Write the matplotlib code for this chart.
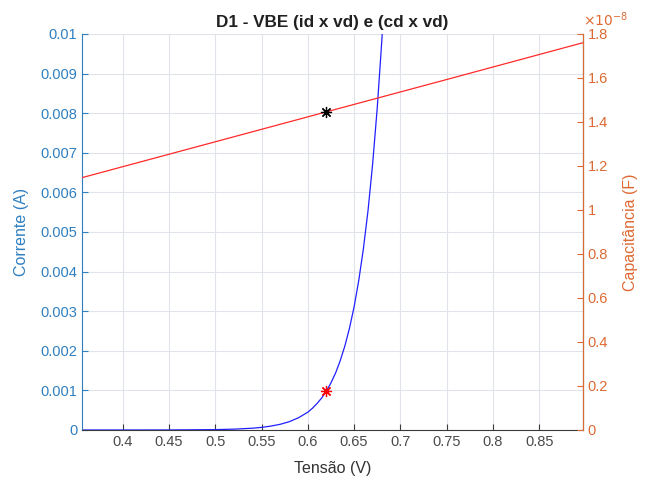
import matplotlib
matplotlib.use('Agg')
import matplotlib.pyplot as plt
from matplotlib.ticker import FuncFormatter

plt.rcParams['font.family'] = ['Liberation Sans', 'DejaVu Sans']

# diode current
vd = [0.356, 0.40, 0.45, 0.50, 0.52, 0.54, 0.55, 0.56, 0.57, 0.58, 0.59,
      0.60, 0.605, 0.61, 0.615, 0.62, 0.625, 0.63, 0.635, 0.64, 0.645, 0.65,
      0.655, 0.66, 0.665, 0.67, 0.675, 0.68, 0.685]
id_ = [0.0, 2e-7, 1.4e-6, 9.7e-6, 2.1e-5, 4.5e-5, 6.6e-5, 9.8e-5, 1.43e-4,
       2.1e-4, 3.1e-4, 4.5e-4, 5.5e-4, 6.7e-4, 8.1e-4, 9.8e-4, 1.19e-3,
       1.44e-3, 1.75e-3, 2.12e-3, 2.57e-3, 3.11e-3, 3.77e-3, 4.57e-3,
       5.53e-3, 6.71e-3, 8.13e-3, 9.85e-3, 1.19e-2]

# diffusion capacitance
vd_c = [0.356, 0.50, 0.62, 0.75, 0.897]
cd = [1.147e-8, 1.310e-8, 1.446e-8, 1.593e-8, 1.760e-8]

# operating point
vq = 0.62
iq = 9.8e-4
cq = 1.446e-8

xticks = [0.4, 0.45, 0.5, 0.55, 0.6, 0.65, 0.7, 0.75, 0.8, 0.85]
yticks = [0, 0.001, 0.002, 0.003, 0.004, 0.005, 0.006, 0.007, 0.008, 0.009, 0.01]
cticks = [0, 0.2e-8, 0.4e-8, 0.6e-8, 0.8e-8, 1.0e-8, 1.2e-8, 1.4e-8, 1.6e-8, 1.8e-8]

blue = '#2f7fc0'
orange = '#dd6a33'
dark = '#3a3a3a'
asterisk = (8, 2, 0)

fig = plt.figure(figsize=(6.49, 4.82), dpi=100)
ax = fig.add_axes([0.1264, 0.1079, 0.7714, 0.8216])

ax.plot(vd, id_, color='#2020ff', lw=0.9)
ax.plot(vq, iq, marker=asterisk, color='red', mec='red', ms=8, mew=0.9, ls='none')
ax.set_xlim(0.356, 0.897)
ax.set_ylim(0, 0.01)
ax.set_xticks(xticks)
ax.set_xticklabels([f'{t:g}' for t in xticks])
ax.set_yticks(yticks)
ax.set_yticklabels([f'{t:g}' for t in yticks])
ax.grid(True, color='#e0e4ea', lw=0.8)
ax.set_axisbelow(True)
ax.tick_params(axis='y', direction='in', colors=blue, labelsize=10.5, length=4)
ax.tick_params(axis='x', direction='in', colors=dark, labelsize=10.5, length=4,
               labelcolor='#4a4a4a')
ax.spines['left'].set_color(blue)
ax.spines['bottom'].set_color(dark)
ax.spines['top'].set_visible(False)
ax.set_ylabel('Corrente (A)', color=blue, fontsize=11.5, labelpad=8)
ax.set_xlabel('Tensão (V)', color='#333333', fontsize=11.5, labelpad=9)
ax.set_title('D1 - VBE (id x vd) e (cd x vd)', fontsize=12.3, fontweight='bold',
             color='#202020', pad=5)

ax2 = ax.twinx()
ax2.plot(vd_c, cd, color='#ff2a2a', lw=0.9)
ax2.plot(vq, cq, marker=asterisk, color='black', mec='black', ms=8, mew=0.9, ls='none')
ax2.set_ylim(0, 1.8e-8)
ax2.set_yticks(cticks)
ax2.yaxis.set_major_formatter(FuncFormatter(lambda v, p: f'{v / 1e-8:.1f}'.rstrip('0').rstrip('.') if v else '0'))
ax2.tick_params(axis='y', direction='in', colors=orange, labelsize=10.5, length=4)
ax2.spines['right'].set_color(orange)
ax2.spines['left'].set_visible(False)
ax2.spines['top'].set_visible(False)
ax2.spines['bottom'].set_visible(False)
ax2.set_ylabel('Capacitância (F)', color=orange, fontsize=11.5, labelpad=11)
ax2.text(1.0, 1.012, r'$\times10^{-8}$', transform=ax2.transAxes, color=orange,
         fontsize=10, ha='left', va='bottom')

fig.savefig('out.png', dpi=100)
